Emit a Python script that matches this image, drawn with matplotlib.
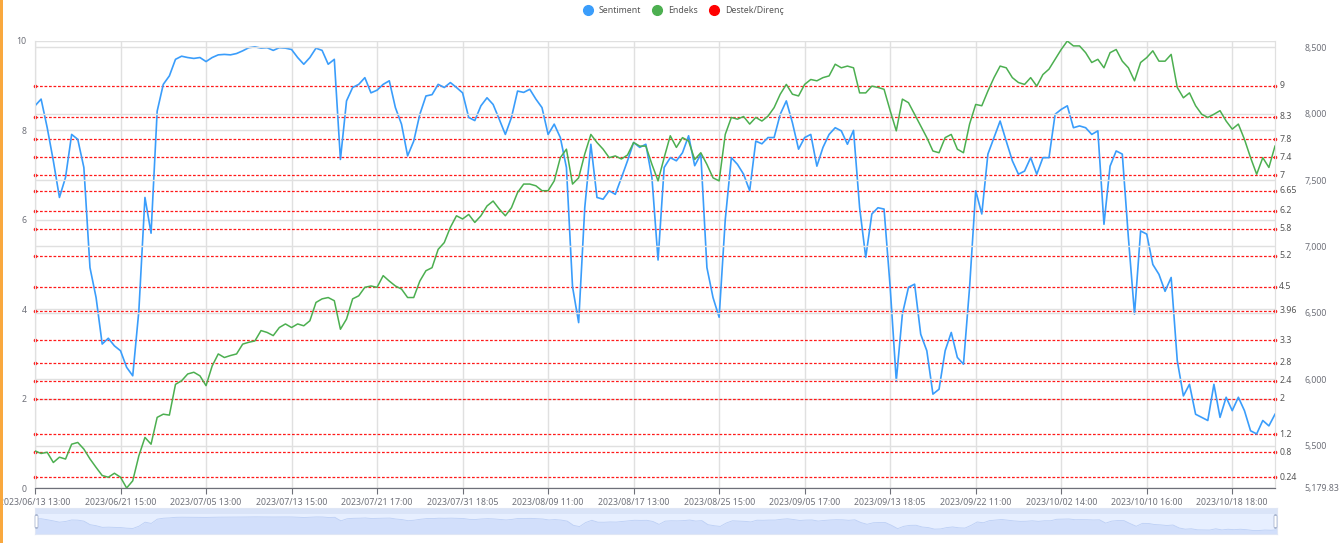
import matplotlib
matplotlib.use("Agg")
import matplotlib.pyplot as plt
from matplotlib.lines import Line2D
from matplotlib.patches import Rectangle, FancyBboxPatch
import numpy as np

plt.rcParams['font.family'] = ['Noto Sans', 'DejaVu Sans']

# --- data ---
sentiment = [
    8.55, 8.70, 8.06, 7.32, 6.50, 6.95, 7.91, 7.80, 7.17, 4.93, 4.26, 3.22, 3.35, 3.18, 3.07, 2.70, 2.51,
    3.96, 6.50, 5.70, 8.43, 9.03, 9.22, 9.59, 9.66, 9.63, 9.61, 9.63, 9.54, 9.63, 9.69, 9.70, 9.69, 9.72,
    9.78, 9.85, 9.87, 9.84, 9.85, 9.79, 9.85,
    9.84, 9.81, 9.63, 9.48, 9.63, 9.84, 9.79, 9.48, 9.59, 7.35, 8.66, 8.96, 9.03, 9.18, 8.84, 8.90, 9.03,
    9.11, 8.51, 8.14, 7.43, 7.76, 8.36, 8.77, 8.80, 9.03, 8.96, 9.07, 8.96, 8.84, 8.29, 8.22, 8.55, 8.73,
    8.58, 8.25, 7.91, 8.29, 8.88, 8.85,
    8.92, 8.70, 8.51, 7.91, 8.14, 7.84, 7.17, 4.50, 3.70, 6.27, 7.69, 6.50, 6.46, 6.65, 6.57, 6.94, 7.32,
    7.73, 7.62, 7.69, 6.94, 5.10, 7.17, 7.39, 7.32, 7.50, 7.88, 7.21, 7.47, 4.93, 4.26, 3.82, 6.00, 7.39,
    7.24, 7.02, 6.65, 7.76, 7.70, 7.84,
    7.84, 8.36, 8.66, 8.17, 7.58, 7.84, 7.91, 7.20, 7.62, 7.91, 8.06, 7.99, 7.69, 8.00, 6.27, 5.16, 6.13,
    6.27, 6.24, 4.49, 2.40, 3.89, 4.49, 4.56, 3.44, 3.07, 2.10, 2.21, 3.07, 3.48, 2.92, 2.77, 4.49, 6.65,
    6.13, 7.47, 7.84, 8.21, 7.76, 7.32,
    7.02, 7.09, 7.39, 7.02, 7.39, 7.39, 8.36, 8.47, 8.55, 8.06, 8.10, 8.06, 7.91, 7.99, 5.90, 7.20, 7.54,
    7.47, 5.60, 3.89, 5.75, 5.68, 5.00, 4.78, 4.40, 4.71, 2.85, 2.06, 2.32, 1.65, 1.58, 1.51, 2.32, 1.58,
    2.03, 1.73, 2.03, 1.73, 1.28, 1.21, 1.51, 1.39, 1.65,
]

endeks = [
    5459, 5440, 5449, 5372, 5412, 5398, 5510, 5523, 5473, 5399, 5335, 5274, 5261, 5291, 5261, 5179.83, 5234,
    5422, 5561, 5510, 5712, 5736, 5729, 5961, 5988, 6039, 6052, 6025, 5951, 6099, 6190, 6163, 6178, 6190,
    6264, 6278, 6288, 6366, 6352, 6328, 6389,
    6416, 6389, 6416, 6402, 6440, 6578, 6605, 6615, 6591, 6376, 6453, 6605, 6628, 6692, 6702, 6692, 6780,
    6739, 6702, 6679, 6615, 6615, 6739, 6817, 6840, 6978, 7029, 7144, 7231, 7207, 7241, 7181, 7231, 7305,
    7342, 7282, 7231, 7292, 7406, 7470,
    7470, 7457, 7420, 7420, 7494, 7669, 7733, 7470, 7517, 7696, 7844, 7783, 7733, 7669, 7682, 7659, 7689,
    7783, 7756, 7756, 7618, 7494, 7669, 7834, 7746, 7820, 7794, 7655, 7706, 7618, 7517, 7494, 7844, 7972,
    7959, 7979, 7922, 7972, 7945, 7982,
    8046, 8147, 8221, 8147, 8134, 8221, 8258, 8248, 8272, 8285, 8373, 8346, 8359, 8346, 8157, 8157, 8208,
    8198, 8184, 8023, 7871, 8110, 8083, 7996, 7908, 7820, 7719, 7706, 7820, 7844, 7733, 7706, 7922, 8070,
    8060, 8171, 8272, 8359, 8346, 8272,
    8235, 8221, 8272, 8208, 8295, 8336, 8410, 8484, 8548, 8511, 8511, 8460, 8386, 8410, 8346, 8460, 8484,
    8396, 8346, 8248, 8386, 8423, 8474, 8396, 8396, 8447, 8198, 8120, 8157, 8060, 7996, 7972, 7996, 8023,
    7945, 7884, 7922, 7807, 7669, 7544, 7669, 7595, 7756,
]

levels = [9, 8.3, 7.8, 7.4, 7, 6.65, 6.2, 5.8, 5.2, 4.5, 3.96, 3.3, 2.8, 2.4, 2, 1.2, 0.8, 0.24]

tick_labels = ["2023/06/13 13:00", "2023/06/21 15:00", "2023/07/05 13:00", "2023/07/13 15:00",
               "2023/07/21 17:00", "2023/07/31 18:05", "2023/08/09 11:00", "2023/08/17 13:00",
               "2023/08/25 15:00", "2023/09/05 17:00", "2023/09/13 18:05", "2023/09/22 11:00",
               "2023/10/02 14:00", "2023/10/10 16:00", "2023/10/18 18:00"]
tick_step = 14

endeks_min = 5179.83
endeks_max = 8548
endeks_ticks = [5500, 6000, 6500, 7000, 7500, 8000, 8500]

BLUE = '#3a9dfb'
GREEN = '#4caf50'
RED = '#ff1a1a'
AXIS = '#6e7079'
GRID = '#e0e0e0'

x = np.arange(len(sentiment))
n = len(sentiment)

fig = plt.figure(figsize=(13.41, 5.43), dpi=100)
ax = fig.add_axes([35 / 1341, 1 - 488 / 543, 1240 / 1341, 447 / 543])
ax2 = ax.twinx()

# grids
ax.set_ylim(0, 10)
ax.set_yticks([0, 2, 4, 6, 8, 10])
ax.grid(axis='y', color=GRID, lw=1)
ax.set_xticks([i * tick_step for i in range(len(tick_labels))])
ax.set_xticklabels(tick_labels)
ax.grid(axis='x', color=GRID, lw=1)
ax.set_axisbelow(True)
ax.set_xlim(0, n - 1)

# support / resistance lines
for lv in levels:
    ax.plot([0, n - 1], [lv, lv], color=RED, lw=0.9, ls=(0, (2.2, 1.4)), zorder=2)
    ax.plot([0, n - 1], [lv, lv], 'o', color=RED, ms=2.6, mew=0, clip_on=False, zorder=3)
    ax.text(1.0035, lv, str(lv), transform=ax.get_yaxis_transform(), fontsize=6.3,
            color='#555555', va='center', ha='left')

ax.plot(x, sentiment, color=BLUE, lw=1.2, zorder=4)

ax2.set_ylim(endeks_min, endeks_max)
ax2.set_yticks([endeks_min] + endeks_ticks)
ax2.set_yticklabels(['5,179.83'] + ['{:,}'.format(t) for t in endeks_ticks])
ax2.grid(axis='y', color=GRID, lw=1)
ax2.plot(x, endeks, color=GREEN, lw=1.1, zorder=4)

for a in (ax, ax2):
    a.spines['top'].set_visible(False)
    a.spines['left'].set_color(GRID)
    a.spines['right'].set_color(GRID)
    a.spines['bottom'].set_color(AXIS)

ax.tick_params(axis='y', length=0, labelsize=6.3, labelcolor=AXIS, pad=6)
ax.tick_params(axis='x', length=4, color=AXIS, labelsize=6.3, labelcolor=AXIS, pad=3)
ax2.tick_params(axis='y', length=0, labelsize=6.3, labelcolor=AXIS, pad=21)

# legend
handles = [Line2D([], [], marker='o', ls='', color=c, ms=7) for c in (BLUE, GREEN, '#ff0000')]
fig.legend(handles, ['Sentiment', 'Endeks', 'Destek/Direnç'], ncol=3, loc='center',
           bbox_to_anchor=(0.508, 0.981), frameon=False, fontsize=6.3, handletextpad=0.2,
           columnspacing=0.9, labelcolor='#555555')

# data zoom slider
sl = fig.add_axes([35 / 1341, 1 - 534 / 543, 1242 / 1341, 26 / 543])
sl.set_facecolor('#e7efff')
sl.fill_between(x, -1, sentiment, color='#d2dffb', lw=0)
sl.plot(x, sentiment, color='#bccff5', lw=0.6)
sl.add_patch(Rectangle((0, 0.78), 1, 0.22, transform=sl.transAxes, color='#dae4f8', lw=0))
sl.set_xlim(0, n - 1)
sl.set_ylim(-1, 15.5)
sl.set_xticks([])
sl.set_yticks([])
for s in sl.spines.values():
    s.set_color('#dfe6f5')
for hx in (35, 1274):
    fig.patches.append(FancyBboxPatch((hx / 1341, 1 - 528 / 543), 3 / 1341, 13 / 543,
                                      boxstyle='round,pad=0,rounding_size=0.002',
                                      transform=fig.transFigure, fc='white', ec='#acb8d1', lw=0.6))

# orange left border
fig.patches.append(Rectangle((0, 0), 3 / 1341, 1, transform=fig.transFigure, color='#f9a83e', lw=0))

fig.savefig('out.png', dpi=100)
